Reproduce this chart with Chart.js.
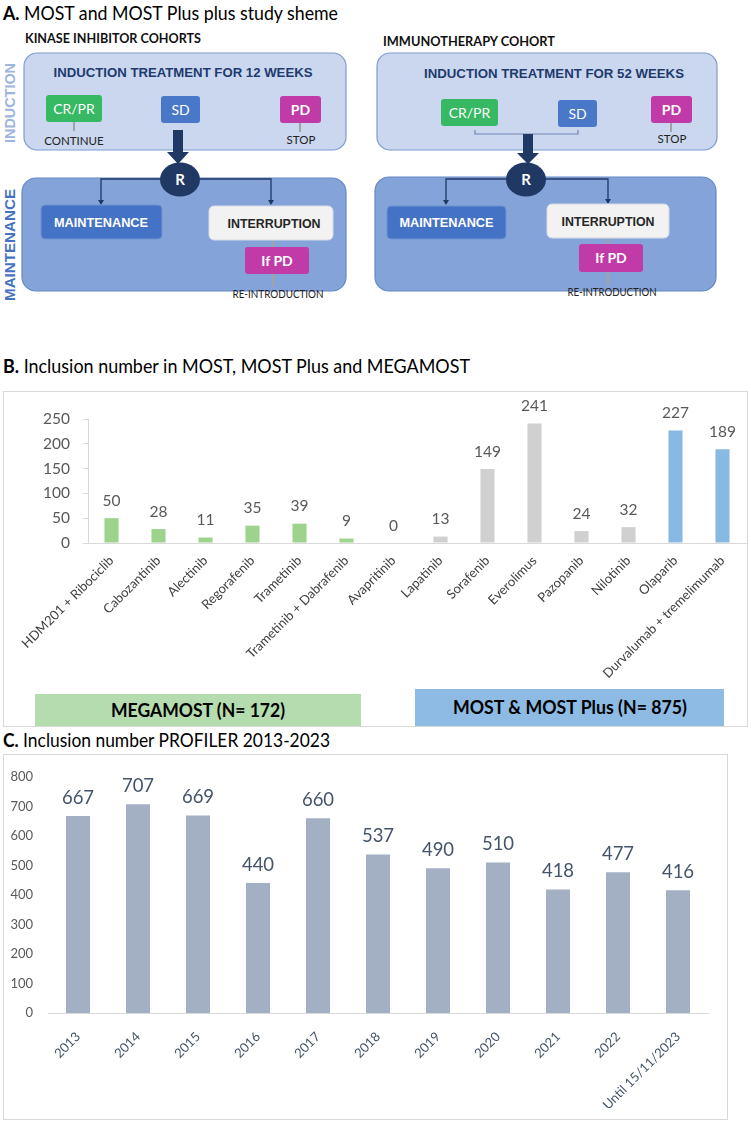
<!DOCTYPE html>
<html>
<head>
<meta charset="utf-8">
<script src="https://cdn.jsdelivr.net/npm/chart.js@4.4.0/dist/chart.umd.min.js"></script>
<style>
  html, body { margin: 0; padding: 0; background: #fff; }
  #page { position: relative; width: 751px; height: 1122px; overflow: hidden; }
  #scheme { position: absolute; left: 0; top: 0; }
  .chart { position: absolute; }
  .cal { font-family: Lato, "Open Sans", sans-serif; }
  .ari { font-family: "Liberation Sans", Arial, sans-serif; font-weight: bold; }
</style>
</head>
<body>
<div id="page">
<svg id="scheme" width="751" height="1122" xmlns="http://www.w3.org/2000/svg">
  <!-- titles -->
  <text class="cal" x="3" y="20" font-size="19" fill="#000" textLength="335" lengthAdjust="spacingAndGlyphs"><tspan font-weight="bold">A.</tspan> MOST and MOST Plus plus study sheme</text>
  <text class="cal" x="3" y="373" font-size="19" fill="#000" textLength="467" lengthAdjust="spacingAndGlyphs"><tspan font-weight="bold">B.</tspan> Inclusion number in MOST, MOST Plus and MEGAMOST</text>
  <text class="cal" x="3" y="747" font-size="19" fill="#000" textLength="327" lengthAdjust="spacingAndGlyphs"><tspan font-weight="bold">C.</tspan> Inclusion number PROFILER 2013-2023</text>

  <!-- ===== left scheme: kinase inhibitors ===== -->
  <text class="cal" x="25" y="43" font-size="13.5" font-weight="bold" fill="#111" textLength="176" lengthAdjust="spacingAndGlyphs">KINASE INHIBITOR COHORTS</text>
  <text class="ari" transform="translate(15,103) rotate(-90)" text-anchor="middle" font-size="14" fill="#9db5de" textLength="80" lengthAdjust="spacingAndGlyphs">INDUCTION</text>
  <text class="ari" transform="translate(15,245) rotate(-90)" text-anchor="middle" font-size="14" fill="#4472c4" textLength="112" lengthAdjust="spacingAndGlyphs">MAINTENANCE</text>

  <rect x="24" y="53" width="322" height="97" rx="13" fill="#cad7ee" stroke="#7f9bd0" stroke-width="1.2"/>
  <text class="ari" x="183" y="77" text-anchor="middle" font-size="13.5" fill="#1f3a6e" textLength="259" lengthAdjust="spacingAndGlyphs">INDUCTION TREATMENT FOR 12 WEEKS</text>

  <rect x="46" y="95" width="56" height="27" rx="3" fill="#37b862"/>
  <text class="cal" x="74" y="114" text-anchor="middle" font-size="14" fill="#fff">CR/PR</text>
  <line x1="74" y1="122" x2="74" y2="131" stroke="#a3a3a3" stroke-width="2"/>
  <text class="cal" x="74" y="145" text-anchor="middle" font-size="11.5" fill="#222">CONTINUE</text>

  <rect x="161" y="96" width="39" height="27" rx="3" fill="#4a78c8"/>
  <text class="cal" x="180.5" y="115" text-anchor="middle" font-size="14" fill="#fff">SD</text>

  <rect x="280" y="96" width="41" height="27" rx="3" fill="#c03ba8"/>
  <text class="cal" x="300.5" y="115" text-anchor="middle" font-size="14" font-weight="bold" fill="#fff">PD</text>
  <line x1="300" y1="123" x2="300" y2="132" stroke="#a3a3a3" stroke-width="2"/>
  <text class="cal" x="301" y="144" text-anchor="middle" font-size="11.5" fill="#222">STOP</text>

  <rect x="22" y="178" width="324" height="113" rx="14" fill="#84a3d8" stroke="#6688c6" stroke-width="1.2"/>
  <polygon points="173,130 183,130 183,152 189,152 178,164 167,152 173,152" fill="#1f3864"/>
  <polyline points="162,179 101,179 101,201" fill="none" stroke="#1f3864" stroke-width="1.3"/>
  <polygon points="98,200 104,200 101,205" fill="#1f3864"/>
  <polyline points="198,179 271,179 271,201" fill="none" stroke="#1f3864" stroke-width="1.3"/>
  <polygon points="268,200 274,200 271,205" fill="#1f3864"/>
  <ellipse cx="180" cy="179.5" rx="20" ry="17" fill="#1f3864"/>
  <text class="cal" x="180" y="185" text-anchor="middle" font-size="15" font-weight="bold" fill="#fff">R</text>

  <rect x="41" y="205" width="121" height="34" rx="4" fill="#4472c4" stroke="#6f93d2" stroke-width="1"/>
  <text class="ari" x="101" y="227" text-anchor="middle" font-size="12.5" fill="#fff" textLength="94" lengthAdjust="spacingAndGlyphs">MAINTENANCE</text>
  <line x1="273" y1="240" x2="273" y2="287" stroke="#a3a3a3" stroke-width="2"/>
  <rect x="209" y="206" width="124" height="34" rx="5" fill="#f2f2f2" stroke="#d6dbe6" stroke-width="1"/>
  <text class="ari" x="274" y="228" text-anchor="middle" font-size="12.5" fill="#262626" textLength="93" lengthAdjust="spacingAndGlyphs">INTERRUPTION</text>
  <rect x="245" y="247" width="64" height="27" rx="3" fill="#c03ba8"/>
  <text class="cal" x="277" y="266" text-anchor="middle" font-size="14" font-weight="bold" fill="#fff">If PD</text>
  <text class="cal" x="278" y="298" text-anchor="middle" font-size="11.5" fill="#222" textLength="91" lengthAdjust="spacingAndGlyphs">RE-INTRODUCTION</text>

  <!-- ===== right scheme: immunotherapy ===== -->
  <text class="cal" x="383" y="46" font-size="13.5" font-weight="bold" fill="#111" textLength="172" lengthAdjust="spacingAndGlyphs">IMMUNOTHERAPY COHORT</text>

  <rect x="377" y="53" width="340" height="97" rx="13" fill="#cad7ee" stroke="#7f9bd0" stroke-width="1.2"/>
  <text class="ari" x="554" y="78" text-anchor="middle" font-size="13.5" fill="#1f3a6e" textLength="260" lengthAdjust="spacingAndGlyphs">INDUCTION TREATMENT FOR 52 WEEKS</text>

  <rect x="441" y="99" width="57" height="27" rx="3" fill="#37b862"/>
  <text class="cal" x="469.5" y="118" text-anchor="middle" font-size="14" fill="#fff">CR/PR</text>
  <rect x="558" y="100" width="39" height="27" rx="3" fill="#4a78c8"/>
  <text class="cal" x="577.5" y="119" text-anchor="middle" font-size="14" fill="#fff">SD</text>
  <polyline points="475,130 475,134 578,134 578,130" fill="none" stroke="#6f86b5" stroke-width="1.2"/>

  <rect x="651" y="96" width="41" height="27" rx="3" fill="#c03ba8"/>
  <text class="cal" x="671.5" y="115" text-anchor="middle" font-size="14" font-weight="bold" fill="#fff">PD</text>
  <line x1="671" y1="123" x2="671" y2="132" stroke="#a3a3a3" stroke-width="2"/>
  <text class="cal" x="672" y="143" text-anchor="middle" font-size="11.5" fill="#222">STOP</text>

  <rect x="375" y="177" width="341" height="114" rx="14" fill="#84a3d8" stroke="#6688c6" stroke-width="1.2"/>
  <polygon points="523,134 533,134 533,153 539,153 528,164 517,153 523,153" fill="#1f3864"/>
  <polyline points="508,179 446,179 446,201" fill="none" stroke="#1f3864" stroke-width="1.3"/>
  <polygon points="443,200 449,200 446,205" fill="#1f3864"/>
  <polyline points="544,179 608,179 608,200" fill="none" stroke="#1f3864" stroke-width="1.3"/>
  <polygon points="605,199 611,199 608,204" fill="#1f3864"/>
  <ellipse cx="526" cy="179.5" rx="20" ry="17" fill="#1f3864"/>
  <text class="cal" x="526" y="185" text-anchor="middle" font-size="15" font-weight="bold" fill="#fff">R</text>

  <rect x="387" y="206" width="119" height="33" rx="4" fill="#4472c4" stroke="#6f93d2" stroke-width="1"/>
  <text class="ari" x="446.5" y="227" text-anchor="middle" font-size="12.5" fill="#fff" textLength="94" lengthAdjust="spacingAndGlyphs">MAINTENANCE</text>
  <line x1="608" y1="238" x2="608" y2="285" stroke="#a3a3a3" stroke-width="2"/>
  <rect x="547" y="204" width="122" height="34" rx="5" fill="#f2f2f2" stroke="#d6dbe6" stroke-width="1"/>
  <text class="ari" x="608" y="226" text-anchor="middle" font-size="12.5" fill="#262626" textLength="93" lengthAdjust="spacingAndGlyphs">INTERRUPTION</text>
  <rect x="579" y="244" width="64" height="28" rx="3" fill="#c03ba8"/>
  <text class="cal" x="611" y="263" text-anchor="middle" font-size="14" font-weight="bold" fill="#fff">If PD</text>
  <text class="cal" x="612" y="296" text-anchor="middle" font-size="11.5" fill="#222" textLength="89" lengthAdjust="spacingAndGlyphs">RE-INTRODUCTION</text>

  <!-- chart frames and cohort bands -->
  <rect x="3.5" y="391.5" width="744" height="335" fill="none" stroke="#d9d9d9" stroke-width="1"/>
  <rect x="35" y="694" width="326" height="32" fill="#b4dcae"/>
  <text class="cal" x="198" y="717" text-anchor="middle" font-size="18" font-weight="bold" fill="#000" textLength="174" lengthAdjust="spacingAndGlyphs">MEGAMOST (N= 172)</text>
  <rect x="415" y="689" width="309" height="37" fill="#8dbbe4"/>
  <text class="cal" x="570" y="714" text-anchor="middle" font-size="18" font-weight="bold" fill="#000" textLength="234" lengthAdjust="spacingAndGlyphs">MOST &amp; MOST Plus (N= 875)</text>
  <rect x="3.5" y="754.5" width="724" height="365" fill="none" stroke="#d9d9d9" stroke-width="1"/>
</svg>

<canvas id="drugChart" class="chart" width="751" height="335" style="left:0;top:392px"></canvas>
<canvas id="profilerChart" class="chart" width="728" height="366" style="left:0;top:754px"></canvas>
</div>

<script>
// Panel B - inclusions per drug
const drugs = ['HDM201 + Ribociclib', 'Cabozantinib', 'Alectinib', 'Regorafenib', 'Trametinib',
    'Trametinib + Dabrafenib', 'Avapritinib', 'Lapatinib', 'Sorafenib', 'Everolimus',
    'Pazopanib', 'Nilotinib', 'Olaparib', 'Durvalumab + tremelimumab'];
const drugInclusions = [50, 28, 11, 35, 39, 9, 0, 13, 149, 241, 24, 32, 227, 189];
const drugCohort = ['megamost', 'megamost', 'megamost', 'megamost', 'megamost', 'megamost', 'megamost',
    'most', 'most', 'most', 'most', 'most', 'mostPlus', 'mostPlus'];
const drugTicks = [0, 50, 100, 150, 200, 250];

// Panel C - PROFILER inclusions per year
const years = ['2013', '2014', '2015', '2016', '2017', '2018', '2019', '2020', '2021', '2022', 'Until 15/11/2023'];
const yearInclusions = [667, 707, 669, 440, 660, 537, 490, 510, 418, 477, 416];
const yearTicks = [0, 100, 200, 300, 400, 500, 600, 700, 800];

const cohortColours = { megamost: '#9dd38c', most: '#d0d0d0', mostPlus: '#88b9e3' };
const calibri = 'Lato, "Open Sans", sans-serif';

// draws the number above each bar
const valueLabels = {
    id: 'valueLabels',
    afterDatasetsDraw(chart, args, opts) {
        const ctx = chart.ctx;
        chart.data.datasets.forEach((ds, i) => {
            chart.getDatasetMeta(i).data.forEach((bar, j) => {
                ctx.save();
                ctx.font = opts.size + 'px ' + calibri;
                ctx.fillStyle = opts.color;
                ctx.textAlign = 'center';
                ctx.textBaseline = 'middle';
                ctx.fillText(ds.data[j], bar.x, bar.y - opts.offset);
                ctx.restore();
            });
        });
    }
};

Chart.defaults.font.family = calibri;
Chart.defaults.animation = false;

new Chart(document.getElementById('drugChart'), {
    type: 'bar',
    data: {
        labels: drugs,
        datasets: [{
            data: drugInclusions,
            backgroundColor: drugCohort.map(c => cohortColours[c]),
            barPercentage: 0.3,
            categoryPercentage: 1.0
        }]
    },
    options: {
        responsive: false,
        devicePixelRatio: 1,
        layout: { padding: { top: 27, right: 5, bottom: 0, left: 0 } },
        plugins: {
            legend: { display: false },
            tooltip: { enabled: false },
            valueLabels: { size: 15.5, color: '#595959', offset: 17.5 }
        },
        scales: {
            x: {
                grid: { display: true, drawOnChartArea: false, drawTicks: false },
                border: { color: '#d9d9d9' },
                ticks: { autoSkip: false, maxRotation: 45, minRotation: 45, padding: 10,
                    color: '#404040', font: { size: 13 } },
                afterFit: s => { s.height = 184; }
            },
            y: {
                min: drugTicks[0],
                max: drugTicks[drugTicks.length - 1],
                ticks: { stepSize: drugTicks[1] - drugTicks[0], padding: 13, color: '#595959', font: { size: 15.5 } },
                grid: { drawOnChartArea: false, drawTicks: true, tickLength: 5, color: '#d9d9d9' },
                border: { color: '#d9d9d9' },
                afterFit: s => { s.width = 88; }
            }
        }
    },
    plugins: [valueLabels]
});

new Chart(document.getElementById('profilerChart'), {
    type: 'bar',
    data: {
        labels: years,
        datasets: [{
            data: yearInclusions,
            backgroundColor: '#a3b0c4',
            barPercentage: 0.4,
            categoryPercentage: 1.0
        }]
    },
    options: {
        responsive: false,
        devicePixelRatio: 1,
        layout: { padding: { top: 18, right: 20, bottom: 0, left: 0 } },
        plugins: {
            legend: { display: false },
            tooltip: { enabled: false },
            valueLabels: { size: 18.5, color: '#44546a', offset: 18.5 }
        },
        scales: {
            x: {
                grid: { display: true, drawOnChartArea: false, drawTicks: false },
                border: { color: '#d9d9d9' },
                ticks: { autoSkip: false, maxRotation: 45, minRotation: 45, padding: 16,
                    color: '#44546a', font: { size: 13 } },
                afterFit: s => { s.height = 107; }
            },
            y: {
                min: yearTicks[0],
                max: yearTicks[yearTicks.length - 1],
                ticks: { stepSize: yearTicks[1] - yearTicks[0], padding: 15, color: '#595959', font: { size: 13 } },
                grid: { display: false, drawTicks: false },
                border: { display: false },
                afterFit: s => { s.width = 48; }
            }
        }
    },
    plugins: [valueLabels]
});
</script>
</body>
</html>
